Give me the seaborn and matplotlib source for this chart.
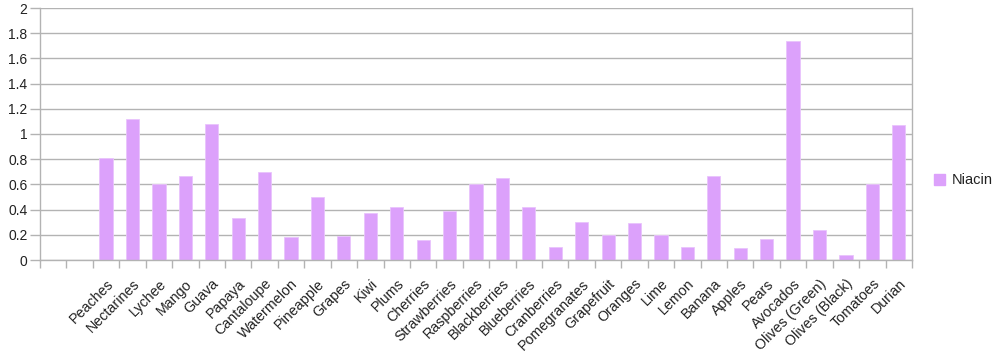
import numpy as np
import pandas as pd
import matplotlib
matplotlib.use("Agg")
import matplotlib.pyplot as plt
import seaborn as sns
from matplotlib.ticker import FixedLocator, MultipleLocator
from matplotlib.patches import Patch

sns.set_theme(style="white")
plt.rcParams['font.family'] = ['Liberation Sans', 'DejaVu Sans']

categories = ["", " ", "Peaches", "Nectarines", "Lychee", "Mango", "Guava", "Papaya",
              "Cantaloupe", "Watermelon", "Pineapple", "Grapes", "Kiwi", "Plums",
              "Cherries", "Strawberries", "Raspberries", "Blackberries", "Blueberries",
              "Cranberries", "Pomegranates", "Grapefruit", "Oranges", "Lime", "Lemon",
              "Banana", "Apples", "Pears", "Avocados", "Olives (Green)", "Olives (Black)",
              "Tomatoes", "Durian"]
niacin = [np.nan, np.nan, 0.81, 1.12, 0.60, 0.67, 1.08, 0.33,
          0.70, 0.18, 0.50, 0.19, 0.37, 0.42,
          0.16, 0.39, 0.60, 0.65, 0.42,
          0.10, 0.30, 0.20, 0.29, 0.20, 0.10,
          0.67, 0.095, 0.165, 1.74, 0.24, 0.04,
          0.60, 1.075]
series_name = "Niacin"
bar_color = "#dca1fb"
grid_color = "#b3b3b3"

df = pd.DataFrame({"fruit": categories, series_name: niacin})

fig = plt.figure(figsize=(10, 3.61), dpi=100)
ax = fig.add_axes([0.040, 1 - 260 / 361, 0.872, 252 / 361])

sns.barplot(data=df, x="fruit", y=series_name, order=categories, color=bar_color,
            saturation=1, width=0.5, edgecolor="#e9c4fc", linewidth=0.6, ax=ax)

ax.set_xlim(-0.5, len(categories) - 0.5)
ax.set_ylim(0, 2)
ax.yaxis.set_major_locator(MultipleLocator(0.2))
ax.set_yticklabels([("%g" % v) for v in ax.get_yticks()])
ax.grid(axis="y", color=grid_color, linewidth=1)
ax.set_axisbelow(True)
ax.set_xlabel("")
ax.set_ylabel("")

for s in ["left", "right", "bottom"]:
    ax.spines[s].set_color(grid_color)
    ax.spines[s].set_linewidth(1)
ax.spines["top"].set_visible(False)

ax.xaxis.set_minor_locator(FixedLocator(np.arange(-0.5, len(categories), 1.0)))
ax.tick_params(axis="x", which="major", length=0, pad=12, labelsize=10.3, colors="#222222")
ax.tick_params(axis="x", which="minor", length=6, width=1, color=grid_color, bottom=True)
ax.tick_params(axis="y", which="major", length=7, width=1, color=grid_color, left=True,
               labelsize=10, labelcolor="#222222", pad=2)
for lab in ax.get_xticklabels():
    lab.set_rotation(45)
    lab.set_ha("right")
    lab.set_va("top")
    lab.set_rotation_mode("anchor")

handle = Patch(facecolor=bar_color, edgecolor=bar_color, label=series_name)
fig.legend(handles=[handle], loc="center left", bbox_to_anchor=(0.921, 0.5),
           frameon=False, fontsize=10.5, handlelength=0.75, handleheight=0.75,
           handletextpad=0.45, labelcolor="#222222")

fig.savefig("out.png", dpi=100)
